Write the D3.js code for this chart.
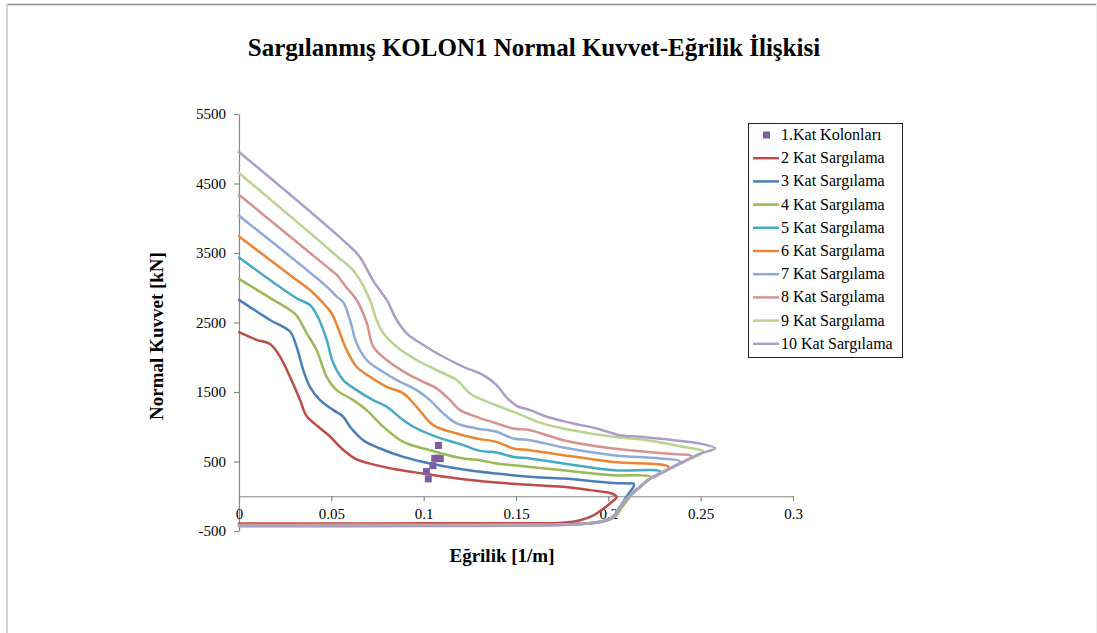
<!DOCTYPE html>
<html>
<head>
<meta charset="utf-8">
<script src="https://cdn.jsdelivr.net/npm/d3@7"></script>
<style>
  body { margin: 0; background: #fff; }
  svg { display: block; }
  text { font-family: "Liberation Serif", "Times New Roman", serif; fill: #000; }
</style>
</head>
<body>
<svg id="chart" width="1097" height="633"></svg>
<script>
// Normal force (kN) vs curvature (1/m) for the confined column, one curve per storey count
const seriesNames = ["1.Kat Kolonları", "2 Kat Sargılama", "3 Kat Sargılama", "4 Kat Sargılama",
  "5 Kat Sargılama", "6 Kat Sargılama", "7 Kat Sargılama", "8 Kat Sargılama",
  "9 Kat Sargılama", "10 Kat Sargılama"];

// 1st storey column demand points [curvature, N]
const kat1 = [[0.108, 730], [0.106, 545], [0.1075, 548], [0.109, 540], [0.105, 440], [0.1015, 355], [0.1025, 250]];

const kat2 = [[0, 2360], [0.0096, 2250], [0.0168, 2190], [0.0222, 2010], [0.0276, 1720], [0.033, 1390],
  [0.0367, 1150], [0.043, 1000], [0.0493, 860], [0.0565, 665], [0.0637, 530], [0.0709, 470], [0.0854, 385],
  [0.0998, 327], [0.1215, 245], [0.148, 180], [0.1755, 135], [0.19, 88], [0.2018, 40], [0.2045, -10],
  [0.2009, -105], [0.1973, -180], [0.192, -275], [0.1847, -345], [0.1755, -380], [0.15, -388], [0.1, -390],
  [0.05, -392], [0, -393]];

const kat3 = [[0, 2825], [0.0168, 2536], [0.0276, 2370], [0.0312, 2150], [0.0348, 1816], [0.0384, 1575],
  [0.0439, 1383], [0.0511, 1239], [0.0565, 1143], [0.0601, 1000], [0.0673, 807], [0.0764, 687], [0.089, 566],
  [0.1034, 471], [0.1215, 385], [0.1395, 327], [0.1576, 280], [0.1756, 255], [0.2027, 192], [0.21, 184],
  [0.2138, 178], [0.2135, 130], [0.2110, 40], [0.2063, -150], [0.2027, -290], [0.198, -350], [0.19, -388],
  [0.175, -402], [0.1, -405], [0, -408]];

const kat4 = [[0, 3127], [0.0168, 2855], [0.0276, 2680], [0.0312, 2600], [0.0367, 2345], [0.042, 2104],
  [0.0475, 1719], [0.0529, 1527], [0.0619, 1383], [0.0691, 1239], [0.0782, 999], [0.089, 782], [0.1034, 663],
  [0.1215, 543], [0.1305, 519], [0.1395, 471], [0.148, 447], [0.1576, 422], [0.1755, 375], [0.2025, 303],
  [0.2226, 285], [0.2226, 255], [0.2171, 134], [0.2125, 14], [0.2075, -154], [0.2035, -298], [0.199, -352],
  [0.19, -392], [0.175, -405], [0.1, -410], [0, -412]];

const kat5 = [[0, 3434], [0.0312, 2849], [0.0384, 2752], [0.043, 2565], [0.0475, 2248], [0.0511, 1912],
  [0.0565, 1672], [0.0637, 1527], [0.0727, 1383], [0.08, 1287], [0.089, 1095], [0.0962, 975], [0.107, 855],
  [0.1215, 735], [0.1305, 653], [0.1395, 630], [0.1486, 566], [0.1576, 543], [0.1756, 471], [0.2027, 375],
  [0.228, 355], [0.2260, 290], [0.2226, 255], [0.2171, 134], [0.2117, 14], [0.2063, -154], [0.2027, -298],
  [0.199, -348], [0.19, -390], [0.175, -406], [0.1, -412], [0, -415]];

const kat6 = [[0, 3737], [0.0312, 3113], [0.0384, 2968], [0.0455, 2781], [0.05, 2640], [0.0529, 2470],
  [0.0583, 2104], [0.0637, 1863], [0.0709, 1719], [0.08, 1575], [0.089, 1480], [0.0962, 1287], [0.1052, 1023],
  [0.1179, 903], [0.1287, 831], [0.1395, 782], [0.1486, 687], [0.1576, 663], [0.1756, 591], [0.2027, 494],
  [0.2325, 425], [0.2316, 375], [0.2226, 255], [0.2171, 134], [0.2117, 14], [0.2063, -154], [0.2027, -298],
  [0.199, -346], [0.19, -388], [0.175, -406], [0.1, -414], [0, -418]];

const kat7 = [[0, 4035], [0.0475, 3016], [0.0529, 2872], [0.0565, 2790], [0.0601, 2536], [0.0637, 2200],
  [0.0691, 1960], [0.0764, 1816], [0.0854, 1672], [0.0962, 1527], [0.1034, 1383], [0.1106, 1192],
  [0.1179, 1048], [0.1287, 975], [0.1395, 927], [0.1486, 831], [0.1576, 807], [0.1756, 702], [0.2027, 591],
  [0.228, 543], [0.2388, 500], [0.2316, 375], [0.2226, 255], [0.2171, 134], [0.2117, 14], [0.2063, -154],
  [0.2027, -298], [0.199, -346], [0.19, -388], [0.175, -408], [0.1, -416], [0, -420]];

const kat8 = [[0, 4337], [0.0475, 3304], [0.0529, 3185], [0.0583, 3000], [0.0637, 2824], [0.0691, 2500],
  [0.0727, 2152], [0.08, 1960], [0.0908, 1768], [0.0998, 1647], [0.107, 1552], [0.1143, 1383],
  [0.1197, 1239], [0.1287, 1143], [0.1395, 1048], [0.1486, 975], [0.1576, 951], [0.1756, 807],
  [0.2027, 687], [0.2316, 615], [0.2451, 576], [0.2406, 494], [0.2316, 375], [0.2226, 255], [0.2171, 134],
  [0.2117, 14], [0.2063, -154], [0.2027, -298], [0.199, -346], [0.19, -388], [0.175, -410], [0.1, -420],
  [0, -424]];

const kat9 = [[0, 4650], [0.051, 3500], [0.063, 3213], [0.0709, 2824], [0.0745, 2536], [0.0782, 2345],
  [0.0854, 2152], [0.0962, 1960], [0.107, 1816], [0.1179, 1672], [0.1251, 1480], [0.1323, 1383],
  [0.1431, 1270], [0.153, 1167], [0.163, 1060], [0.1756, 975], [0.2027, 855], [0.2208, 807], [0.2388, 720],
  [0.2514, 640], [0.2406, 494], [0.2316, 375], [0.2226, 255], [0.2171, 134], [0.2117, 14], [0.2063, -154],
  [0.2027, -298], [0.199, -346], [0.19, -388], [0.175, -412], [0.1, -424], [0, -428]];

const kat10 = [[0, 4953], [0.0637, 3497], [0.067, 3377], [0.0727, 3100], [0.08, 2824], [0.0854, 2536],
  [0.0908, 2345], [0.0998, 2176], [0.1106, 2007], [0.1215, 1863], [0.1323, 1744], [0.1395, 1600],
  [0.145, 1420], [0.1504, 1300], [0.1576, 1239], [0.1666, 1143], [0.181, 1048], [0.1937, 975],
  [0.2063, 879], [0.2171, 855], [0.2352, 807], [0.2496, 759], [0.2578, 690], [0.2496, 612], [0.2406, 494],
  [0.2316, 375], [0.2226, 255], [0.2171, 134], [0.2117, 14], [0.2063, -154], [0.2027, -292], [0.199, -345],
  [0.19, -390], [0.175, -414], [0.1, -428], [0, -432]];

const lineSeries = [kat2, kat3, kat4, kat5, kat6, kat7, kat8, kat9, kat10];
const seriesColors = ["#7E5F9E", "#BE4B48", "#4A7EBB", "#98B954", "#46AAC5", "#EB8531",
  "#8FAAD9", "#D79290", "#B9D391", "#AB9CC8"];

const xTicks = [0, 0.05, 0.1, 0.15, 0.2, 0.25, 0.3];
const yTicks = [-500, 500, 1500, 2500, 3500, 4500, 5500];

const titleText = "Sargılanmış KOLON1 Normal Kuvvet-Eğrilik İlişkisi";
const xTitle = "Eğrilik [1/m]";
const yTitle = "Normal Kuvvet [kN]";

const svg = d3.select("#chart");
const W = 1097, H = 633;

svg.append("rect").attr("width", W).attr("height", H).attr("fill", "#fff");

// outer frame of the chart area
svg.append("line").attr("x1", 6).attr("x2", W).attr("y1", 4.5).attr("y2", 4.5)
  .attr("stroke", "#8a8a8a").attr("stroke-width", 1.5);
svg.append("line").attr("x1", 7).attr("x2", 7).attr("y1", 4).attr("y2", H)
  .attr("stroke", "#d2d2d2").attr("stroke-width", 2);
svg.append("line").attr("x1", W - 0.5).attr("x2", W - 0.5).attr("y1", 4).attr("y2", H)
  .attr("stroke", "#ececec").attr("stroke-width", 1);

const x = d3.scaleLinear().domain([0, 0.3]).range([239, 793]);
const y = d3.scaleLinear().domain([-500, 5500]).range([531, 114]);

// title
svg.append("text").attr("x", 534).attr("y", 56).attr("text-anchor", "middle")
  .attr("font-size", 25).attr("font-weight", "bold").text(titleText);

// axes
const axisColor = "#868686";
const gy = svg.append("g").attr("transform", "translate(239,0)")
  .call(d3.axisLeft(y).tickValues(yTicks).tickSize(5).tickSizeOuter(0).tickPadding(8)
    .tickFormat(d => String(d)));
const gx = svg.append("g").attr("transform", `translate(0,${y(0)})`)
  .call(d3.axisBottom(x).tickValues(xTicks).tickSize(5).tickSizeOuter(0).tickPadding(7)
    .tickFormat(d => String(d)));
[gx, gy].forEach(g => {
  g.select(".domain").attr("stroke", axisColor).attr("stroke-width", 1.2);
  g.selectAll(".tick line").attr("stroke", axisColor).attr("stroke-width", 1.2);
  g.selectAll(".tick text").attr("font-size", 15).attr("fill", "#000")
    .attr("font-family", "'Liberation Serif', 'Times New Roman', serif");
});

// axis titles
svg.append("text").attr("x", 502).attr("y", 562).attr("text-anchor", "middle")
  .attr("font-size", 19).attr("font-weight", "bold").text(xTitle);
svg.append("text").attr("transform", "translate(163,336) rotate(-90)").attr("text-anchor", "middle")
  .attr("font-size", 19).attr("font-weight", "bold").text(yTitle);

// curves
const line = d3.line().x(d => x(d[0])).y(d => y(d[1])).curve(d3.curveCatmullRom.alpha(0.5));
const plot = svg.append("g");
lineSeries.forEach((s, i) => {
  plot.append("path").attr("d", line(s)).attr("fill", "none")
    .attr("stroke", seriesColors[i + 1]).attr("stroke-width", 2.5)
    .attr("stroke-linejoin", "round").attr("stroke-linecap", "round");
});

// 1st storey points
const ms = 7;
plot.selectAll("rect.pt").data(kat1).enter().append("rect").attr("class", "pt")
  .attr("x", d => x(d[0]) - ms / 2).attr("y", d => y(d[1]) - ms / 2)
  .attr("width", ms).attr("height", ms).attr("fill", seriesColors[0]);

// legend
const lg = svg.append("g");
lg.append("rect").attr("x", 748.5).attr("y", 123.5).attr("width", 154).attr("height", 234)
  .attr("fill", "#fff").attr("stroke", "#222").attr("stroke-width", 1);
seriesNames.forEach((name, i) => {
  const cy = 135 + i * 23.2;
  if (i === 0) {
    lg.append("rect").attr("x", 763).attr("y", cy - 3.5).attr("width", 7).attr("height", 7)
      .attr("fill", seriesColors[0]);
  } else {
    lg.append("line").attr("x1", 753).attr("x2", 779).attr("y1", cy).attr("y2", cy)
      .attr("stroke", seriesColors[i]).attr("stroke-width", 2.5);
  }
  lg.append("text").attr("x", 781).attr("y", cy + 5).attr("font-size", 16).text(name);
});
</script>
</body>
</html>
